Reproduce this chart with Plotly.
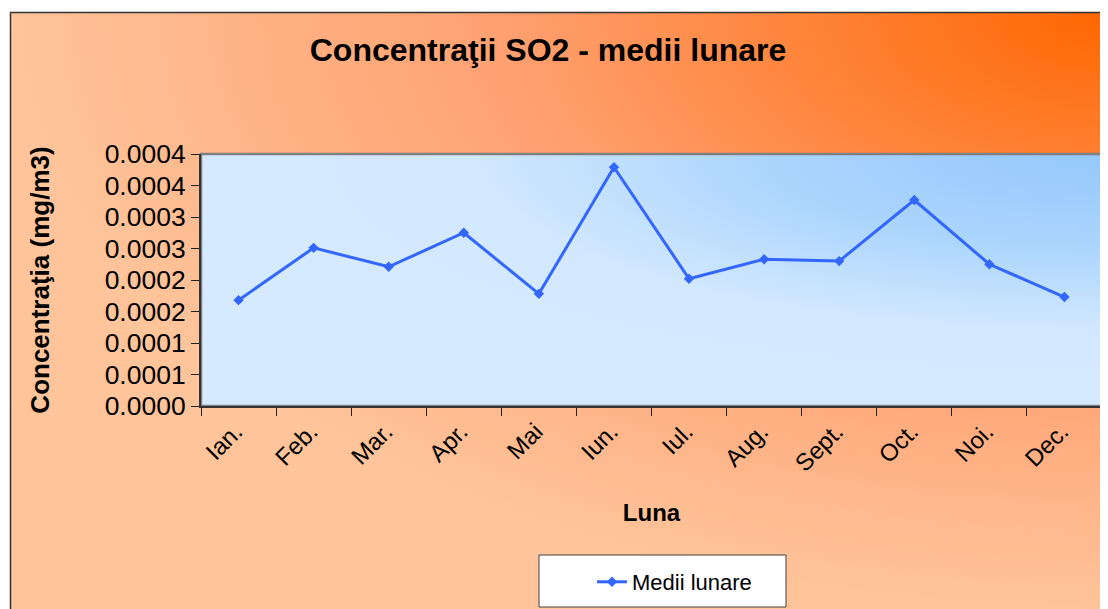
import base64
import plotly.graph_objects as go

# ---- data ----
months = ["Ian.", "Feb.", "Mar.", "Apr.", "Mai", "Iun.", "Iul.", "Aug.", "Sept.", "Oct.", "Noi.", "Dec."]
medii_lunare = [0.000168, 0.000251, 0.000221, 0.000275, 0.000178, 0.000379,
                0.000202, 0.000233, 0.000230, 0.000327, 0.000225, 0.000173]
y_tickvals = [0, 0.00005, 0.0001, 0.00015, 0.0002, 0.00025, 0.0003, 0.00035, 0.0004]
y_ticktext = ["0.0000", "0.0001", "0.0001", "0.0002", "0.0002", "0.0003", "0.0003", "0.0004", "0.0004"]

FONT = "Arial, Liberation Sans, sans-serif"
OFF = 8  # page body margin
W, H = 1108 - OFF, 609 - OFF
# plot area in screen pixels
SL, SR, ST, SB = 201, 1102, 154, 406
L, R, T, B = SL - OFF, SR - OFF, ST - OFF, SB - OFF
pw, ph = R - L, B - T


def px_x(x):  # screen x -> paper
    return (x - SL) / pw


def px_y(y):  # screen y -> paper
    return (SB - y) / ph


def svg_uri(w, h, stops):
    st = "".join(f"<stop offset='{o}' stop-color='{c}'/>" for o, c in stops)
    svg = (f"<svg xmlns='http://www.w3.org/2000/svg' width='{w}' height='{h}' viewBox='0 0 {w} {h}' "
           f"preserveAspectRatio='none'><defs><radialGradient id='g' cx='1' cy='0' r='1' "
           f"gradientUnits='objectBoundingBox'>{st}</radialGradient></defs>"
           f"<rect width='{w}' height='{h}' fill='url(#g)'/></svg>")
    return "data:image/svg+xml;base64," + base64.b64encode(svg.encode()).decode()


paper_img = svg_uri(1100, 600, [(0, "#ff6600"), (0.55, "#ffa070"), (1, "#ffc49a")])
plot_img = svg_uri(pw, ph, [(0, "#96c8fc"), (0.35, "#a9d4fd"), (0.7, "#d2e8fe"), (1, "#d6eaff")])

fig = go.Figure()
fig.add_trace(go.Scatter(
    x=months, y=medii_lunare, mode="lines+markers", name="Medii lunare",
    line=dict(color="#3366ff", width=3),
    marker=dict(symbol="diamond", size=8, color="#3366ff"),
))

fig.update_layout(
    width=W, height=H,
    margin=dict(l=L, r=W - R, t=T, b=H - B),
    paper_bgcolor="white",
    plot_bgcolor="rgba(0,0,0,0)",
    font=dict(family=FONT, color="black"),
    title=dict(text="<b>Concentraţii SO2 - medii lunare</b>", x=(548 - OFF) / W, xanchor="center",
               y=1 - (50 - OFF) / H, yanchor="middle", font=dict(size=32, family=FONT, color="black")),
    xaxis=dict(
        type="category", range=[-0.5, len(months) - 0.5], autorange=False,
        tickson="boundaries", ticks="outside", ticklen=8, tickwidth=1,
        tickcolor="#222", tickangle=-45, tickfont=dict(size=24, family=FONT),
        ticklabelshift=-3,
        showline=True, linecolor="#333", linewidth=2, showgrid=False, zeroline=False,
        title=dict(text="<b>Luna</b>", font=dict(size=24, family=FONT), standoff=29),
    ),
    yaxis=dict(
        range=[0, 0.0004], tickvals=y_tickvals, ticktext=y_ticktext,
        ticks="outside", ticklen=8, tickwidth=1, tickcolor="#222",
        tickfont=dict(size=26.5, family=FONT),
        showline=True, linecolor="#333", linewidth=2, showgrid=False, zeroline=False,
        title=dict(text="<b>Concentraţia (mg/m3)</b>", font=dict(size=26, family=FONT), standoff=48),
    ),
    showlegend=True,
    legend=dict(x=px_x(592), y=px_y(582), xanchor="left", yanchor="middle",
                bgcolor="rgba(0,0,0,0)", borderwidth=0, font=dict(size=22, family=FONT)),
    images=[
        dict(source=paper_img, xref="paper", yref="paper", x=px_x(10), y=px_y(12),
             sizex=1100 / pw, sizey=600 / ph, xanchor="left", yanchor="top",
             sizing="stretch", layer="below"),
        dict(source=plot_img, xref="paper", yref="paper", x=0, y=1, sizex=1, sizey=1,
             xanchor="left", yanchor="top", sizing="stretch", layer="below"),
    ],
    shapes=[
        # outer chart border
        dict(type="rect", xref="paper", yref="paper", x0=px_x(10.5), y0=px_y(12.5),
             x1=px_x(1115), y1=px_y(620), line=dict(color="#333", width=1.5), layer="below"),
        # plot area border
        dict(type="rect", xref="paper", yref="paper", x0=0, y0=0, x1=1, y1=1,
             line=dict(color="#808080", width=2.5), layer="below"),
        # legend box
        dict(type="rect", xref="paper", yref="paper", x0=px_x(539), y0=px_y(555),
             x1=px_x(786), y1=px_y(607), fillcolor="white", line=dict(color="#404040", width=1),
             layer="below"),
    ],
)

fig.write_html("out.html")
